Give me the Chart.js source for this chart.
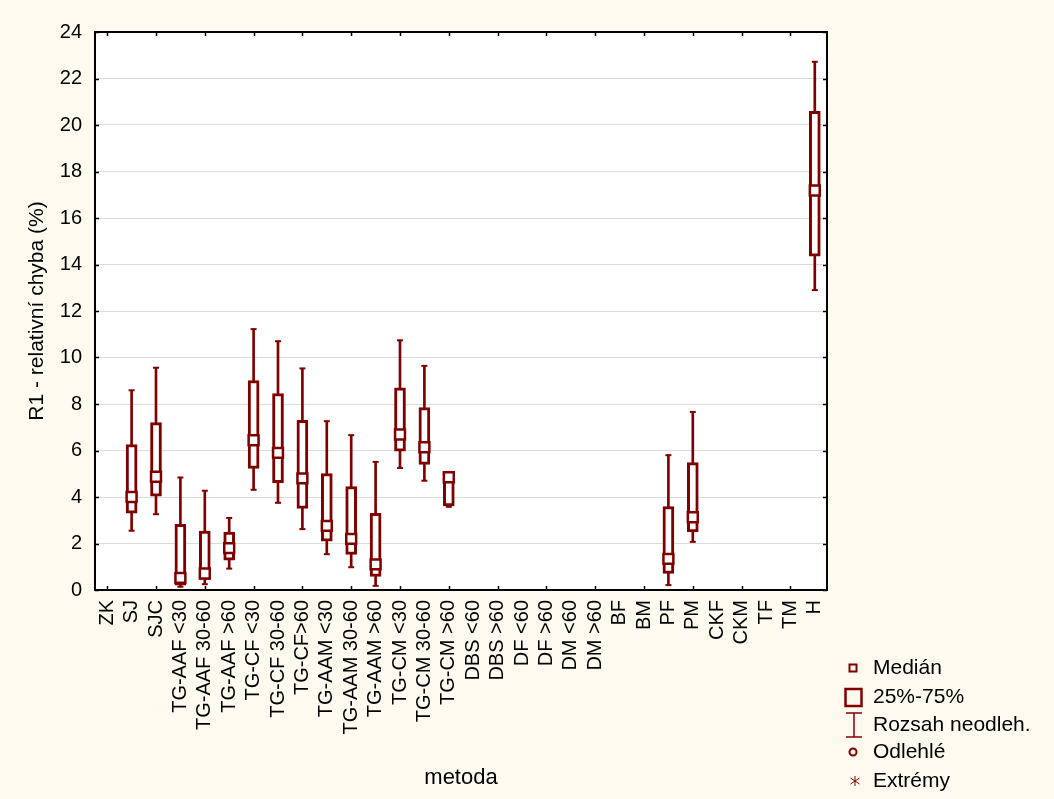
<!DOCTYPE html>
<html>
<head>
<meta charset="utf-8">
<script src="https://cdn.jsdelivr.net/npm/chart.js@4"></script>
<style>
  body { margin: 0; background: #fefaf0; }
  canvas { display: block; }
</style>
</head>
<body>
<canvas id="box-chart" width="1054" height="799"></canvas>
<script>
// categories and box plot values (min whisker, 25%, median, 75%, max whisker)
let categories = ["ZK", "SJ", "SJC", "TG-AAF <30", "TG-AAF 30-60", "TG-AAF >60",
  "TG-CF <30", "TG-CF 30-60", "TG-CF>60", "TG-AAM <30", "TG-AAM 30-60", "TG-AAM >60",
  "TG-CM <30", "TG-CM 30-60", "TG-CM >60", "DBS <60", "DBS >60", "DF <60", "DF >60",
  "DM <60", "DM >60", "BF", "BM", "PF", "PM", "CKF", "CKM", "TF", "TM", "H"];

let whiskerLow  = [null, 2.55, 3.26, 0.14, 0.25, 0.92, 4.31, 3.75, 2.62, 1.54, 0.98, 0.18, 5.25, 4.70, 3.58,
  null, null, null, null, null, null, null, null, 0.21, 2.07, null, null, null, null, 12.90];
let quartile1   = [null, 3.30, 4.04, 0.21, 0.45, 1.28, 5.23, 4.62, 3.51, 2.10, 1.53, 0.58, 5.97, 5.40, 3.62,
  null, null, null, null, null, null, null, null, 0.71, 2.50, null, null, null, null, 14.36];
let medians     = [null, 4.00, 4.87, 0.52, 0.71, 1.80, 6.44, 5.90, 4.80, 2.76, 2.20, 1.10, 6.69, 6.14, 4.85,
  null, null, null, null, null, null, null, null, 1.34, 3.13, null, null, null, null, 17.18];
let quartile3   = [null, 6.26, 7.20, 2.82, 2.53, 2.49, 9.01, 8.45, 7.30, 5.01, 4.45, 3.30, 8.70, 7.85, 4.98,
  null, null, null, null, null, null, null, null, 3.59, 5.48, null, null, null, null, 20.59];
let whiskerHigh = [null, 8.59, 9.56, 4.84, 4.27, 3.10, 11.22, 10.70, 9.53, 7.26, 6.66, 5.51, 10.74, 9.64, 5.05,
  null, null, null, null, null, null, null, null, 5.80, 7.66, null, null, null, null, 22.72];

let yTicks = { min: 0, max: 24, step: 2 };
let legendLabels = ["Medián", "25%-75%", "Rozsah neodleh.", "Odlehlé", "Extrémy"];

let maroon = "#800000";
let fontFamily = "'Liberation Sans', Arial, sans-serif";

const toRange = (low, high) => low.map((v, i) => (v == null ? null : [v, high[i]]));

//plot background, frame, inner ticks and legend
const framePlugin = {
  id: "framePlugin",
  beforeDraw: (chart) => {
    const {ctx, chartArea: a} = chart;
    ctx.save();
    ctx.fillStyle = "#ffffff";
    ctx.fillRect(a.left, a.top, a.right - a.left, a.bottom - a.top);
    ctx.restore();
  },
  afterDraw: (chart) => {
    const {ctx, chartArea: a, scales} = chart;
    ctx.save();
    ctx.strokeStyle = "#000000";
    ctx.lineWidth = 1.5;
    ctx.beginPath();
    scales.y.ticks.forEach((t) => {
      let y = Math.round(scales.y.getPixelForValue(t.value)) + 0.5;
      ctx.moveTo(a.left, y); ctx.lineTo(a.left + 4, y);
      ctx.moveTo(a.right - 4, y); ctx.lineTo(a.right, y);
    });
    categories.forEach((c, i) => {
      if (i % 2 !== 0) return;
      let x = Math.round(scales.x.getPixelForValue(i)) + 0.5;
      ctx.moveTo(x, a.bottom); ctx.lineTo(x, a.bottom - 4);
      ctx.moveTo(x, a.top); ctx.lineTo(x, a.top + 4);
    });
    ctx.stroke();
    ctx.lineWidth = 2;
    ctx.strokeRect(a.left, a.top, a.right - a.left, a.bottom - a.top);

    // legend
    let symX = 853, textX = 873;
    let rows = [668, 697, 725, 752, 781];
    ctx.strokeStyle = maroon;
    ctx.lineWidth = 2;
    ctx.strokeRect(symX - 3.5, rows[0] - 3.5, 7, 7);
    ctx.lineWidth = 2.5;
    ctx.strokeRect(symX - 7.5, rows[1] - 8, 16, 17);
    ctx.lineWidth = 1.5;
    ctx.beginPath();
    ctx.moveTo(symX - 7, rows[2] - 12); ctx.lineTo(symX + 9, rows[2] - 12);
    ctx.moveTo(symX + 1, rows[2] - 12); ctx.lineTo(symX + 1, rows[2] + 12);
    ctx.moveTo(symX - 7, rows[2] + 12); ctx.lineTo(symX + 9, rows[2] + 12);
    ctx.stroke();
    ctx.lineWidth = 2;
    ctx.beginPath();
    ctx.arc(symX, rows[3], 3.5, 0, Math.PI * 2);
    ctx.stroke();
    ctx.lineWidth = 1;
    ctx.beginPath();
    let sx = symX + 2, sy = rows[4];
    ctx.moveTo(sx, sy - 5); ctx.lineTo(sx, sy + 5);
    ctx.moveTo(sx - 4.5, sy - 3); ctx.lineTo(sx + 4.5, sy + 3);
    ctx.moveTo(sx - 4.5, sy + 3); ctx.lineTo(sx + 4.5, sy - 3);
    ctx.stroke();

    ctx.fillStyle = "#000000";
    ctx.font = `21px ${fontFamily}`;
    ctx.textAlign = "left";
    ctx.textBaseline = "middle";
    legendLabels.forEach((label, i) => ctx.fillText(label, textX, rows[i]));
    ctx.restore();
  }
};

let boxChart = document.getElementById("box-chart");

new Chart(boxChart, {
  type: "bar",
  data: {
    labels: categories,
    datasets: [
      {
        label: "Rozsah neodleh.",
        data: toRange(whiskerLow, whiskerHigh),
        backgroundColor: maroon,
        barThickness: 2,
        grouped: false,
        borderWidth: 0,
        order: 4,
      },
      {
        label: "25%-75%",
        data: toRange(quartile1, quartile3),
        backgroundColor: "#ffffff",
        borderColor: maroon,
        borderWidth: 3,
        borderSkipped: false,
        barThickness: 11,
        grouped: false,
        order: 3,
      },
      {
        type: "line",
        label: "max",
        data: whiskerHigh,
        showLine: false,
        pointStyle: "line",
        pointRadius: 3,
        pointBorderWidth: 2,
        pointBorderColor: maroon,
        order: 2,
      },
      {
        type: "line",
        label: "min",
        data: whiskerLow,
        showLine: false,
        pointStyle: "line",
        pointRadius: 3,
        pointBorderWidth: 2,
        pointBorderColor: maroon,
        order: 2,
      },
      {
        type: "line",
        label: "Medián",
        data: medians,
        showLine: false,
        pointStyle: "rect",
        pointRadius: 7,
        pointBorderWidth: 2.5,
        pointBorderColor: maroon,
        pointBackgroundColor: "#ffffff",
        order: 1,
      }
    ]
  },
  plugins: [framePlugin],
  options: {
    responsive: false,
    animation: false,
    events: [],
    layout: {
      padding: { top: 32, right: 227, left: 0, bottom: 0 }
    },
    scales: {
      x: {
        offset: true,
        grid: { display: false, drawTicks: false },
        border: { display: false },
        ticks: {
          autoSkip: false,
          maxRotation: 90,
          minRotation: 90,
          padding: 10,
          color: "#000000",
          font: { family: fontFamily, size: 20 },
        },
        title: {
          display: true,
          text: "metoda",
          color: "#000000",
          font: { family: fontFamily, size: 22 },
          padding: { top: 4, bottom: 8 },
        },
        afterFit: (scale) => { scale.height = 209; },
      },
      y: {
        min: yTicks.min,
        max: yTicks.max,
        grid: { color: "#dcdcdc", lineWidth: 1, drawTicks: false },
        border: { display: false },
        ticks: {
          stepSize: yTicks.step,
          padding: 13,
          color: "#000000",
          font: { family: fontFamily, size: 20 },
        },
        title: {
          display: true,
          text: "R1 - relativní chyba (%)",
          color: "#000000",
          font: { family: fontFamily, size: 21 },
          padding: { top: 25, bottom: 0 },
        },
        afterFit: (scale) => { scale.width = 95; },
      }
    },
    plugins: {
      legend: { display: false },
      tooltip: { enabled: false },
    }
  }
});
</script>
</body>
</html>
